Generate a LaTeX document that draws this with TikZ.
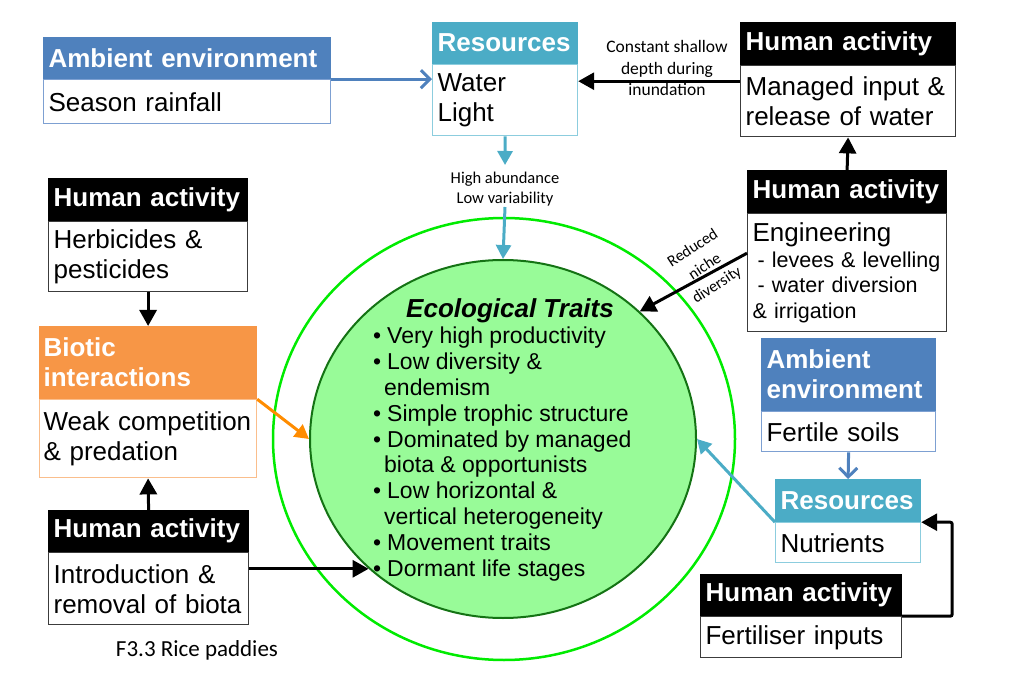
\documentclass[tikz,border=0pt]{standalone}
\usepackage{fontspec}
\setmainfont{Liberation Sans}
\newfontfamily\calib{Carlito}
\usetikzlibrary{positioning,arrows.meta,shapes.geometric}
\hyphenpenalty=10000
\definecolor{aeblue}{RGB}{79,129,189}
\definecolor{aeline}{RGB}{125,160,210}
\definecolor{resteal}{RGB}{75,172,198}
\definecolor{resline}{RGB}{140,205,222}
\definecolor{bioorange}{RGB}{247,150,70}
\definecolor{bioline}{RGB}{250,190,140}
\definecolor{haline}{RGB}{60,60,60}
\definecolor{ecofill}{RGB}{152,251,152}
\definecolor{ecoline}{RGB}{20,115,20}
\definecolor{ringgreen}{RGB}{0,235,0}

\begin{document}
\begin{tikzpicture}[x=1pt, y=-1pt,
  head/.style={fill=#1, draw=#1, line width=1.2pt, text=white, anchor=north west, align=left,
    inner xsep=5pt, inner ysep=0pt, font=\fontsize{26}{30}\selectfont\bfseries},
  body/.style={draw=#1, fill=white, line width=1.2pt, align=left, inner xsep=5pt, inner ysep=0pt,
    font=\fontsize{26}{30}\selectfont},
  lbl/.style={font=\calib\fontsize{17}{21}\selectfont, align=center, inner sep=1pt},
  blk/.style={-{Triangle[length=16pt,width=17pt]}, line width=3pt},
  tealarr/.style={-{Triangle[length=14pt,width=15pt]}, line width=3pt, draw=resteal},
  orarr/.style={-{Triangle[length=14pt,width=15pt]}, line width=3pt, draw=orange!90!yellow},
  blauarr/.style={-{Straight Barb[length=9pt,width=18pt]}, line width=3pt, draw=aeblue}]
\useasboundingbox (0,0) rectangle (1011,700);

% outer ring and trait circle
\node[ellipse, draw=ringgreen, line width=2.5pt, inner sep=0pt, minimum width=462pt, minimum height=442pt] (ring) at (504,439) {};
\node[ellipse, draw=ecoline, fill=ecofill, line width=2pt, inner sep=0pt, minimum width=386pt, minimum height=358pt] (eco) at (503,439) {};
\node[anchor=base, font=\fontsize{26}{30}\selectfont\bfseries\itshape] (title) at (510,317) {Ecological Traits};
\node[anchor=north west, align=left, inner sep=0pt, font=\fontsize{23}{25.8}\selectfont] (traits) at (373,327) {%
\makebox[14pt][l]{\textbullet}Very high productivity\\
\makebox[14pt][l]{\textbullet}Low diversity \&\\
\hspace*{11pt}endemism\\
\makebox[14pt][l]{\textbullet}Simple trophic structure\\
\makebox[14pt][l]{\textbullet}Dominated by managed\\
\hspace*{11pt}biota \& opportunists\\
\makebox[14pt][l]{\textbullet}Low horizontal \&\\
\hspace*{11pt}vertical heterogeneity\\
\makebox[14pt][l]{\textbullet}Movement traits\\
\makebox[14pt][l]{\textbullet}Dormant life stages};

% boxes
\node[head=aeblue, text width=277pt, minimum height=41pt] (ae1h) at (43,37) {Ambient environment};
\node[body=aeline, text width=277pt, minimum height=44pt, below=0pt of ae1h] (ae1b) {Season rainfall};
\node[head=resteal, text width=135pt, minimum height=41pt] (res1h) at (432,22) {Resources};
\node[body=resline, text width=135pt, minimum height=71pt, below=0pt of res1h] (res1b) {Water\\Light};
\node[head=black, text width=205pt, minimum height=42pt] (ha1h) at (740,22) {Human activity};
\node[body=haline, text width=205pt, minimum height=71pt, below=0pt of ha1h] (ha1b) {Managed input \&\\release of water};
\node[head=black, text width=189pt, minimum height=42pt] (ha2h) at (747,170) {Human activity};
\node[body=haline, text width=189pt, minimum height=118pt, below=0pt of ha2h, font=\fontsize{21.5}{25.5}\selectfont] (ha2b)
  {{\fontsize{26}{26}\selectfont Engineering}\\\hspace*{5pt}- levees \& levelling\\\hspace*{5pt}- water diversion\\\& irrigation};
\node[head=black, text width=189pt, minimum height=42pt] (ha3h) at (48,178) {Human activity};
\node[body=haline, text width=189pt, minimum height=70pt, below=0pt of ha3h] (ha3b) {Herbicides \&\\pesticides};
\node[head=bioorange, text width=209pt, inner xsep=4pt, minimum height=72pt] (bioh) at (39,326) {Biotic\\interactions};
\node[body=bioline, text width=209pt, inner xsep=4pt, minimum height=78pt, below=0pt of bioh] (biob) {Weak competition\\\& predation};
\node[head=black, text width=190pt, minimum height=41pt] (ha4h) at (48,510) {Human activity};
\node[body=haline, text width=190pt, minimum height=72pt, below=0pt of ha4h] (ha4b) {Introduction \&\\removal of biota};
\node[head=aeblue, text width=164pt, minimum height=72pt] (ae2h) at (761,338) {Ambient\\environment};
\node[body=aeline, text width=164pt, minimum height=40pt, below=0pt of ae2h] (ae2b) {Fertile soils};
\node[head=resteal, text width=135pt, minimum height=42pt] (res2h) at (775,479) {Resources};
\node[body=resline, text width=135pt, minimum height=40pt, below=0pt of res2h] (res2b) {Nutrients};
\node[head=black, text width=191pt, minimum height=41pt] (ha5h) at (700,574) {Human activity};
\node[body=haline, text width=191pt, minimum height=41pt, below=0pt of ha5h] (ha5b) {Fertiliser inputs};

% labels
\node[lbl, font=\calib\fontsize{16.5}{19.5}\selectfont] (abund) at (505,189) {High abundance\\Low variability};
\node[lbl, font=\calib\fontsize{17.5}{21.5}\selectfont] (shallow) at (667,68) {Constant shallow\\depth during\\inundation};
\node[lbl, font=\calib\fontsize{16}{22}\selectfont, rotate=33] (niche) at (705,267) {Reduced\\niche\\diversity};
\node[font=\calib\fontsize{23}{27}\selectfont] (cap) at (197,650) {F3.3 Rice paddies};

% connectors
\draw[blauarr] (ae1h.south east) -- (ae1h.south east -| res1b.west);
\draw[blk] ([yshift=-16pt]ha1b.north west) -- ([yshift=-16pt]ha1b.north west -| res1b.east);
\draw[tealarr, shorten >=6pt] (res1b.south) -- (abund.north);
\draw[tealarr] (abund.south) -- (eco.north);
\draw[blk] (ha2h.north) -- (ha1b.south);
\draw[blk] ([yshift=-40pt]ha2b.north west) -- (eco.43);
\draw[blk] (ha3b.south) -- (bioh.north);
\draw[blk] (ha4h.north) -- (biob.south);
\draw[orarr] (bioh.south east) -- (eco.west);
\draw[blk] ([yshift=20pt]ha4b.east) -- ([yshift=20pt]ha4b.east -| eco.224);
\draw[blauarr] (ae2b.south) -- (res2h.north);
\draw[tealarr] (res2h.south west) -- (eco.east);
\draw[blk, rounded corners=2pt] (ha5h.south east) -- ++(50,0) |- (res2h.south east);
\end{tikzpicture}
\end{document}
